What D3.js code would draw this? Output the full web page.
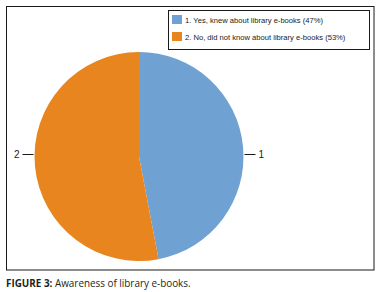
<!DOCTYPE html>
<html>
<head>
<meta charset="utf-8">
<script src="https://cdn.jsdelivr.net/npm/d3@7"></script>
<style>
  body { margin: 0; background: #fff; }
  svg text { font-family: "Liberation Sans", "DejaVu Sans", sans-serif; }
</style>
</head>
<body>
<div id="chart"></div>
<script>
// data
const categories = ["1", "2"];
const legendLabels = [
  "1. Yes, knew about library e-books (47%)",
  "2. No, did not know about library e-books (53%)"
];
const values = [47, 53];
const colors = ["#70a1d3", "#e8851f"];
const caption = "FIGURE 3:";
const captionRest = " Awareness of library e-books.";

const width = 381, height = 292;
const cx = 139, cy = 156.5, radius = 104.5;

const svg = d3.select("#chart")
  .append("svg")
  .attr("width", width)
  .attr("height", height);

// outer frame
svg.append("rect")
  .attr("x", 6.5).attr("y", 6.5)
  .attr("width", 367.5).attr("height", 263.5)
  .attr("fill", "none")
  .attr("stroke", "#1a1a1a")
  .attr("stroke-width", 1);

const color = d3.scaleOrdinal().domain(categories).range(colors);

const pie = d3.pie().sort(null).value(d => d.value);
const arcs = pie(categories.map((c, i) => ({key: c, value: values[i]})));

const arc = d3.arc().innerRadius(0).outerRadius(radius);

const g = svg.append("g")
  .attr("transform", `translate(${cx}, ${cy})`);

g.selectAll(".slice")
  .data(arcs)
  .enter()
  .append("path")
  .attr("class", "slice")
  .attr("d", arc)
  .attr("fill", d => color(d.data.key));

// labels with leader lines, placed on the side of each slice
const labelY = -2;
g.selectAll(".leader")
  .data(arcs)
  .enter()
  .append("line")
  .attr("class", "leader")
  .attr("x1", d => (arc.centroid(d)[0] > 0 ? 1 : -1) * (radius + 1))
  .attr("x2", d => (arc.centroid(d)[0] > 0 ? 1 : -1) * (radius + 12))
  .attr("y1", labelY)
  .attr("y2", labelY)
  .attr("stroke", "#1a1a1a")
  .attr("stroke-width", 1);

g.selectAll(".slice-label")
  .data(arcs)
  .enter()
  .append("text")
  .attr("class", "slice-label")
  .attr("x", d => (arc.centroid(d)[0] > 0 ? 1 : -1) * (radius + 15))
  .attr("y", labelY + 3.5)
  .attr("text-anchor", d => arc.centroid(d)[0] > 0 ? "start" : "end")
  .attr("font-size", 10)
  .attr("fill", "#1a1a1a")
  .text(d => d.data.key);

// legend
const legend = svg.append("g");
legend.append("rect")
  .attr("x", 168.5).attr("y", 10.5)
  .attr("width", 201).attr("height", 39)
  .attr("fill", "#fff")
  .attr("stroke", "#1a1a1a")
  .attr("stroke-width", 1);

const item = legend.selectAll(".item")
  .data(categories)
  .enter()
  .append("g")
  .attr("class", "item")
  .attr("transform", (d, i) => `translate(172, ${15 + i * 17})`);

item.append("rect")
  .attr("width", 10).attr("height", 9)
  .attr("fill", d => color(d));

item.append("text")
  .attr("x", 13)
  .attr("y", 8)
  .attr("font-size", 7.6)
  .attr("fill", "#1a1a1a")
  .text((d, i) => legendLabels[i]);

// caption
const cap = svg.append("text")
  .attr("x", 6)
  .attr("y", 287)
  .attr("font-size", 9.9)
  .attr("fill", "#231f20")
  .style("font-family", "'Open Sans', 'Noto Sans', sans-serif");
cap.append("tspan").attr("font-weight", "bold").text(caption);
cap.append("tspan").attr("font-weight", 500).text(captionRest);
</script>
</body>
</html>
